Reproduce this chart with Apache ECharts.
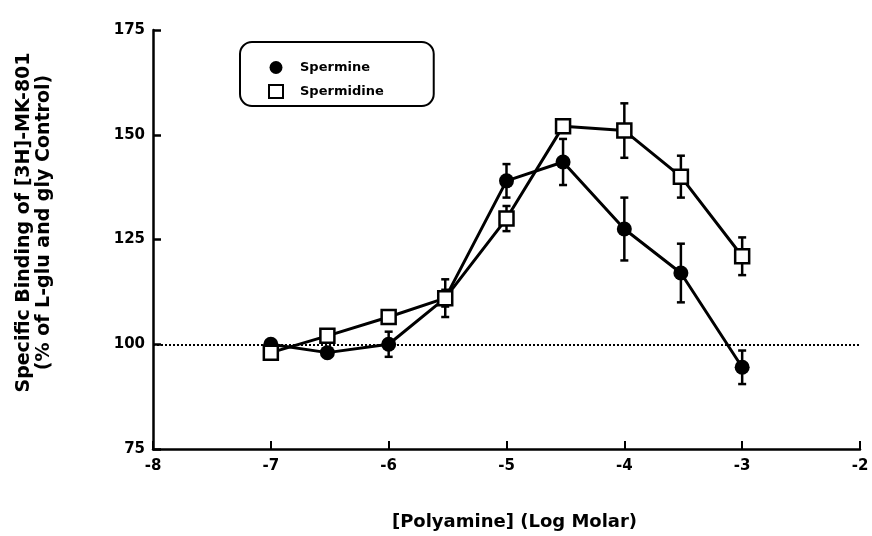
<!DOCTYPE html>
<html>
<head>
<meta charset="utf-8">
<script src="https://cdn.jsdelivr.net/npm/echarts@6/dist/echarts.min.js"></script>
<style>
html, body { margin: 0; padding: 0; background: #fff; }
#main { width: 872px; height: 536px; }
</style>
</head>
<body>
<div id="main"></div>
<script>
// log molar concentrations (1e-7, 3e-7, 1e-6 ...)
var logConc = [-7, -6.52, -6, -5.52, -5, -4.52, -4, -3.52, -3];
var spermine = [100, 98, 100, 111, 139, 143.5, 127.5, 117, 94.5];
var spermineErr = [1, 1, 3, 2, 4, 5.5, 7.5, 7, 4];
var spermidine = [98, 102, 106.5, 111, 130, 152, 151, 140, 121];
var spermidineErr = [1, 1, 1, 4.5, 3, 1, 6.5, 5, 4.5];

var font = 'DejaVu Sans, Liberation Sans, sans-serif';

function pairs(ys) {
    var out = [];
    for (let i = 0; i < logConc.length; i++) {
        out.push([logConc[i], ys[i]]);
    }
    return out;
}
function errData(ys, es) {
    var out = [];
    for (let i = 0; i < logConc.length; i++) {
        out.push([logConc[i], ys[i] - es[i], ys[i] + es[i]]);
    }
    return out;
}
function errRender(params, api) {
    var lo = api.coord([api.value(0), api.value(1)]);
    var hi = api.coord([api.value(0), api.value(2)]);
    var w = 4;
    var st = { stroke: '#000', lineWidth: 2.5 };
    return {
        type: 'group',
        children: [
            { type: 'line', shape: { x1: lo[0], y1: lo[1], x2: hi[0], y2: hi[1] }, style: st },
            { type: 'line', shape: { x1: lo[0] - w, y1: lo[1], x2: lo[0] + w, y2: lo[1] }, style: st },
            { type: 'line', shape: { x1: hi[0] - w, y1: hi[1], x2: hi[0] + w, y2: hi[1] }, style: st }
        ]
    };
}

var chart = echarts.init(document.getElementById('main'));
var option = {
    animation: false,
    backgroundColor: '#fff',
    grid: { left: 153, right: 12, top: 30, bottom: 87 },
    legend: {
        orient: 'vertical',
        left: 240,
        top: 42,
        padding: [19, 50, 7, 28],
        borderColor: '#000',
        borderWidth: 2,
        borderRadius: 12,
        itemGap: 10,
        itemWidth: 14,
        itemHeight: 13,
        textStyle: { fontFamily: font, fontWeight: 'bold', fontSize: 13, color: '#000', padding: [0, 0, 0, 12] },
        data: [
            { name: 'Spermine', icon: 'circle', itemStyle: { color: '#000', borderWidth: 0 } },
            { name: 'Spermidine', icon: 'rect', itemStyle: { color: '#fff', borderColor: '#000', borderWidth: 2 } }
        ]
    },
    xAxis: {
        type: 'value',
        min: -8,
        max: -2,
        interval: 1,
        name: '[Polyamine] (Log Molar)',
        nameLocation: 'middle',
        nameGap: 64,
        nameTextStyle: { fontFamily: font, fontWeight: 'bold', fontSize: 18, color: '#000', padding: [0, 0, 0, 16] },
        axisLine: { lineStyle: { color: '#000', width: 2.5 } },
        axisTick: { inside: true, length: 8, lineStyle: { color: '#000', width: 2 } },
        axisLabel: { fontFamily: font, fontWeight: 'bold', fontSize: 15, color: '#000', margin: 10 },
        splitLine: { show: false }
    },
    yAxis: {
        type: 'value',
        min: 75,
        max: 175,
        interval: 25,
        name: 'Specific Binding of [3H]-MK-801\n(% of L-glu and gly Control)',
        nameLocation: 'middle',
        nameGap: 99,
        nameRotate: 90,
        nameTextStyle: { fontFamily: font, fontWeight: 'bold', fontSize: 19, color: '#000', lineHeight: 20, padding: [0, 0, 0, 34] },
        axisLine: { lineStyle: { color: '#000', width: 2.5 } },
        axisTick: { inside: true, length: 8, lineStyle: { color: '#000', width: 2.5 } },
        axisLabel: { fontFamily: font, fontWeight: 'bold', fontSize: 15, color: '#000', margin: 8 },
        splitLine: { show: false }
    },
    series: [
        {
            name: 'Spermine err',
            type: 'custom',
            renderItem: errRender,
            data: errData(spermine, spermineErr),
            z: 2,
            silent: true
        },
        {
            name: 'Spermine',
            type: 'line',
            data: pairs(spermine),
            symbol: 'circle',
            symbolSize: 15,
            lineStyle: { color: '#000', width: 3 },
            itemStyle: { color: '#000', borderWidth: 0 },
            z: 3,
            markLine: {
                silent: true,
                symbol: 'none',
                label: { show: false },
                lineStyle: { color: '#000', type: [2, 2], width: 2 },
                data: [{ yAxis: 100 }]
            }
        },
        {
            name: 'Spermidine err',
            type: 'custom',
            renderItem: errRender,
            data: errData(spermidine, spermidineErr),
            z: 4,
            silent: true
        },
        {
            name: 'Spermidine',
            type: 'line',
            data: pairs(spermidine),
            symbol: 'rect',
            symbolSize: 14,
            lineStyle: { color: '#000', width: 3 },
            itemStyle: { color: '#fff', borderColor: '#000', borderWidth: 2.5 },
            z: 5
        }
    ]
};
chart.setOption(option);
</script>
</body>
</html>
